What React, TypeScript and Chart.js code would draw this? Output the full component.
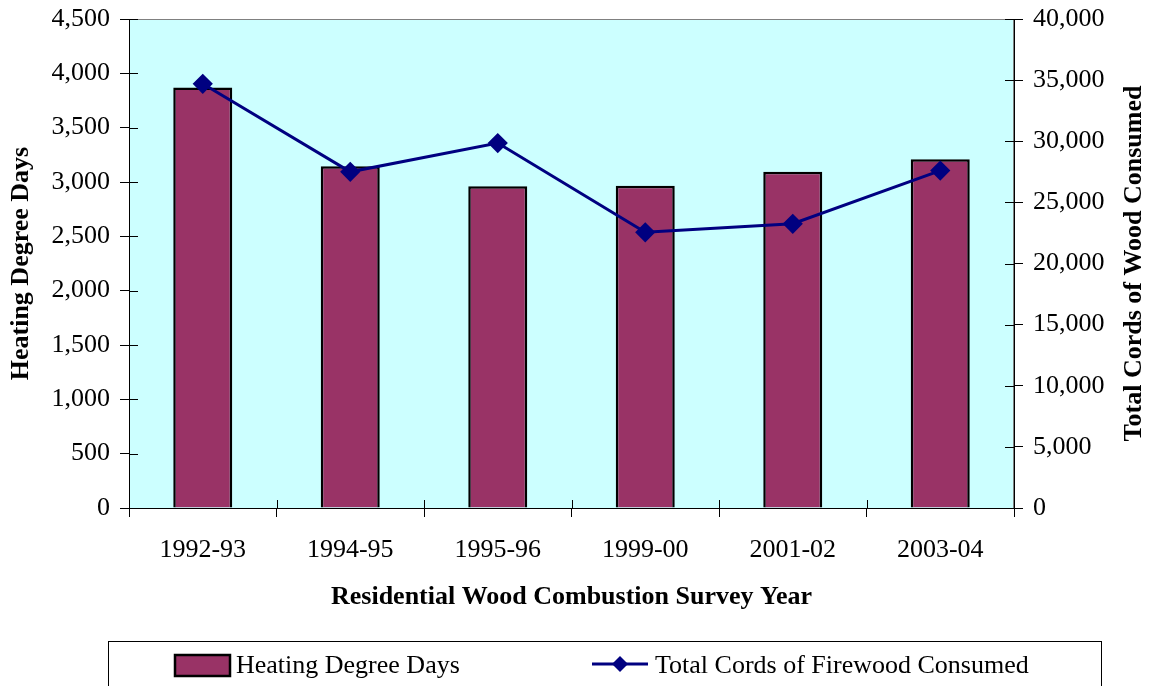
import React, { useEffect, useRef } from "react";
import { Chart, registerables } from "chart.js";

Chart.register(...registerables);

const categories = ["1992-93", "1994-95", "1995-96", "1999-00", "2001-02", "2003-04"];
const heatingDegreeDays = [3870, 3145, 2960, 2965, 3095, 3210];
const cordsConsumed = [34700, 27500, 29850, 22550, 23250, 27600];
const leftTitle = "Heating Degree Days";
const rightTitle = "Total Cords of Wood Consumed";
const xTitle = "Residential Wood Combustion Survey Year";
const barLabel = "Heating Degree Days";
const lineLabel = "Total Cords of Firewood Consumed";

const FONT = "'Liberation Serif', 'Times New Roman', serif";
const BAR_COLOR = "#993366";
const LINE_COLOR = "#000080";

const decorPlugin = {
  id: "decor",
  beforeDraw(chart: any) {
    const { ctx, chartArea: a } = chart;
    ctx.save();
    ctx.fillStyle = "#CCFFFF";
    ctx.fillRect(a.left, a.top, a.right - a.left, a.bottom - a.top);
    ctx.strokeStyle = "#808080";
    ctx.lineWidth = 1;
    ctx.strokeRect(a.left + 0.5, a.top + 0.5, a.right - a.left - 1, a.bottom - a.top);
    ctx.restore();
  },
  afterDraw(chart: any) {
    const { ctx, chartArea: a, scales } = chart;
    ctx.save();
    // inner halves of crossing tick marks
    ctx.strokeStyle = "#000";
    ctx.lineWidth = 1;
    ctx.beginPath();
    scales.y.ticks.forEach((t: any) => {
      const y = Math.round(scales.y.getPixelForValue(t.value)) + 0.5;
      ctx.moveTo(a.left, y);
      ctx.lineTo(a.left + 9, y);
    });
    scales.y1.ticks.forEach((t: any) => {
      const y = Math.round(scales.y1.getPixelForValue(t.value)) + 0.5;
      ctx.moveTo(a.right - 9, y);
      ctx.lineTo(a.right, y);
    });
    for (let i = 0; i <= categories.length; i++) {
      const x = Math.round(scales.x.getPixelForValue(i - 0.5)) + 0.5;
      ctx.moveTo(x, a.bottom - 8);
      ctx.lineTo(x, a.bottom);
    }
    ctx.stroke();

    // right axis title (reads bottom to top)
    ctx.fillStyle = "#000";
    ctx.font = `bold 26px ${FONT}`;
    ctx.textAlign = "center";
    ctx.textBaseline = "middle";
    ctx.translate(1134, (a.top + a.bottom) / 2);
    ctx.rotate(-Math.PI / 2);
    ctx.fillText(rightTitle, 0, 0);
    ctx.setTransform(1, 0, 0, 1, 0, 0);

    // legend
    ctx.strokeStyle = "#000";
    ctx.lineWidth = 1;
    ctx.strokeRect(108.5, 641.5, 993, 80);
    ctx.fillStyle = BAR_COLOR;
    ctx.fillRect(175, 655, 55, 21);
    ctx.lineWidth = 2.5;
    ctx.strokeRect(175, 655, 55, 21);
    ctx.fillStyle = "#000";
    ctx.font = `26px ${FONT}`;
    ctx.textAlign = "left";
    ctx.textBaseline = "middle";
    ctx.fillText(barLabel, 236, 666);
    ctx.strokeStyle = LINE_COLOR;
    ctx.lineWidth = 3;
    ctx.beginPath();
    ctx.moveTo(592, 664);
    ctx.lineTo(648, 664);
    ctx.stroke();
    ctx.fillStyle = LINE_COLOR;
    ctx.beginPath();
    ctx.moveTo(620, 656);
    ctx.lineTo(628, 664);
    ctx.lineTo(620, 672);
    ctx.lineTo(612, 664);
    ctx.closePath();
    ctx.fill();
    ctx.fillStyle = "#000";
    ctx.fillText(lineLabel, 655, 666);
    ctx.restore();
  },
};

export default function App() {
  const ref = useRef<HTMLCanvasElement>(null);
  useEffect(() => {
    if (!ref.current) return;
    const tickFont = { family: FONT, size: 26 };
    const titleFont = { family: FONT, size: 26, weight: "bold" as const };
    const chart = new Chart(ref.current, {
      type: "bar",
      data: {
        labels: categories,
        datasets: [
          {
            type: "line" as const,
            label: lineLabel,
            data: cordsConsumed,
            yAxisID: "y1",
            borderColor: LINE_COLOR,
            backgroundColor: LINE_COLOR,
            borderWidth: 3,
            pointStyle: "rectRot",
            pointRadius: 8,
            pointBackgroundColor: LINE_COLOR,
            pointBorderColor: LINE_COLOR,
            tension: 0,
            order: 0,
          },
          {
            type: "bar" as const,
            label: barLabel,
            data: heatingDegreeDays,
            yAxisID: "y",
            backgroundColor: BAR_COLOR,
            borderColor: "#000",
            borderWidth: 2.5,
            barPercentage: 0.4,
            categoryPercentage: 1,
            order: 1,
          },
        ],
      },
      options: {
        animation: false,
        responsive: true,
        maintainAspectRatio: false,
        layout: { padding: { top: 19, left: 0, right: 0, bottom: 61 } },
        plugins: { legend: { display: false }, tooltip: { enabled: false } },
        scales: {
          x: {
            grid: { drawOnChartArea: false, drawTicks: true, tickLength: 9, color: "#000", offset: true },
            border: { color: "#000", width: 1 },
            ticks: { color: "#000", font: tickFont, padding: 18, maxRotation: 0 },
            title: { display: true, text: xTitle, color: "#000", font: titleFont, padding: { top: 0, bottom: 12 } },
            afterFit(scale: any) {
              scale.height = 117;
            },
          },
          y: {
            position: "left",
            min: 0,
            max: 4500,
            grid: { drawOnChartArea: false, drawTicks: true, tickLength: 9, color: "#000" },
            border: { color: "#000", width: 1 },
            ticks: {
              stepSize: 500,
              color: "#000",
              font: tickFont,
              padding: 10,
              callback: (v: any) => Number(v).toLocaleString("en-US"),
            },
            title: { display: true, text: leftTitle, color: "#000", font: titleFont, padding: { top: 6, bottom: 0 } },
            afterFit(scale: any) {
              scale.width = 129;
              scale.paddingTop = 0;
              scale.paddingBottom = 0;
            },
          },
          y1: {
            position: "right",
            min: 0,
            max: 40000,
            grid: { drawOnChartArea: false, drawTicks: true, tickLength: 9, color: "#000" },
            border: { color: "#000", width: 1 },
            ticks: {
              stepSize: 5000,
              color: "#000",
              font: tickFont,
              padding: 10,
              callback: (v: any) => Number(v).toLocaleString("en-US"),
            },
            afterFit(scale: any) {
              scale.width = 136;
              scale.paddingTop = 0;
              scale.paddingBottom = 0;
            },
          },
        },
      },
      plugins: [decorPlugin],
    });
    return () => chart.destroy();
  }, []);
  return (
    <div style={{ position: "absolute", left: 0, top: 0, width: 1150, height: 686, background: "#fff" }}>
      <canvas ref={ref} />
    </div>
  );
}
